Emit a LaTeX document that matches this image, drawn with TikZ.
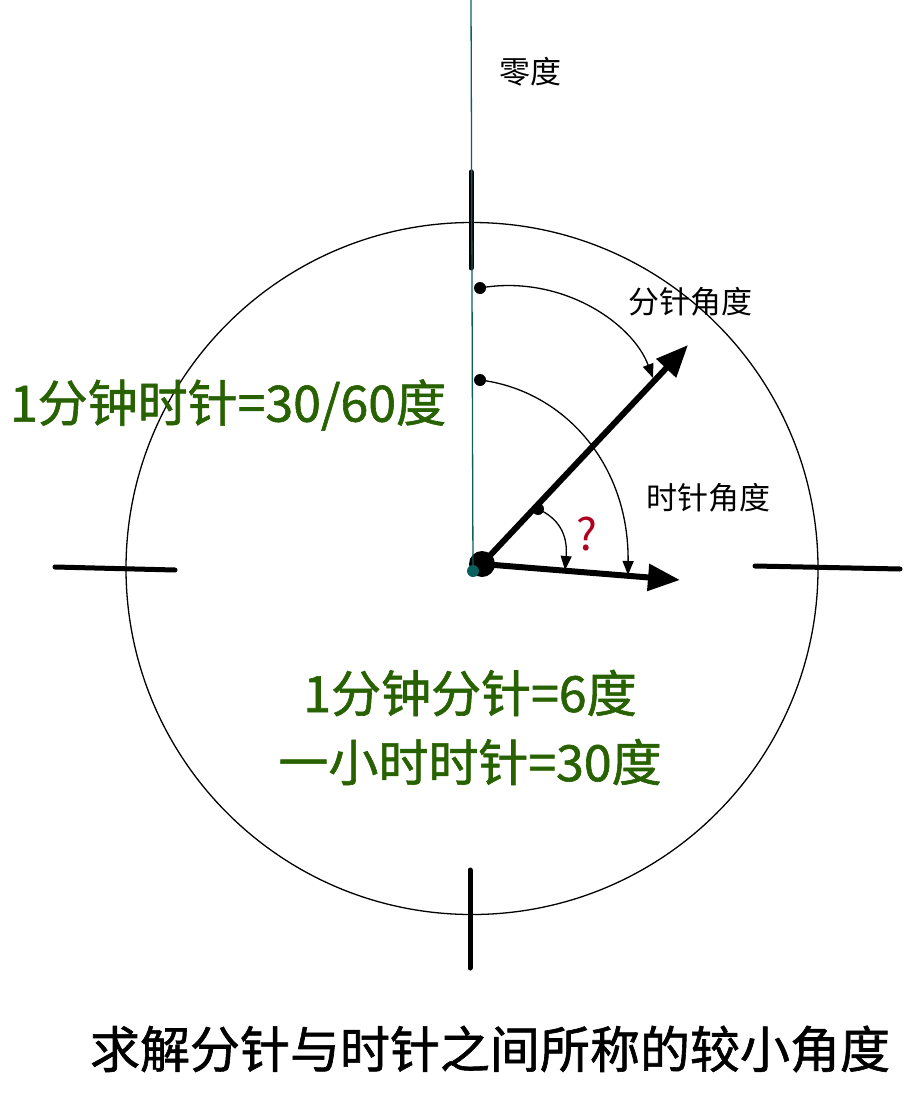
\documentclass[tikz,border=0pt]{standalone}
\usepackage{fontspec}
\newfontfamily\cjk{Noto Sans CJK SC}
\newfontfamily\cjkheavy[FakeBold=1.2]{Noto Sans CJK SC}
\usetikzlibrary{positioning, arrows, arrows.meta}
\definecolor{clockgreen}{RGB}{40,98,0}
\definecolor{zeroteal}{RGB}{10,95,95}
\definecolor{askred}{RGB}{176,0,32}

\tikzset{
    dot/.style={circle, fill=black, inner sep=0pt, minimum size=12pt},
    hand/.style={line width=6pt, -{Triangle[length=32pt,width=26pt]}},
    sweep/.style={line width=1.3pt, -{Triangle[length=14pt,width=11pt]}},
    tickmark/.style={line width=5pt, line cap=round},
    smalltag/.style={inner sep=0pt, font=\cjk\fontsize{31pt}{34pt}\selectfont},
    bigtag/.style={inner sep=0pt, text=clockgreen, font=\cjkheavy\fontsize{50pt}{56pt}\selectfont}
}

\begin{document}
\begin{tikzpicture}[x=1pt, y=-1pt, >=latex', thick]
    \useasboundingbox (0,0) rectangle (904,1094);

    % clock face %
    \node [draw,
        circle,
        line width=1.3pt,
        inner sep=0pt,
        minimum size=692pt
    ] (face) at (472,568.5) {};

    % ticks %
    \coordinate (t12a) at (471,172);
    \coordinate (t12b) at (471,268);
    \coordinate (t6a) at (470,870);
    \coordinate (t6b) at (470,968);
    \coordinate (t9a) at (55,567);
    \coordinate (t9b) at (175,570);
    \coordinate (t3a) at (755,566);
    \coordinate (t3b) at (900,569);
    \draw[tickmark] (t12a) -- (t12b);
    \draw[tickmark] (t6a) -- (t6b);
    \draw[tickmark] (t9a) -- (t9b);
    \draw[tickmark] (t3a) -- (t3b);

    % hands %
    \node [dot, minimum size=26pt] (hub) at (482,564) {};
    \coordinate (mintip) at (688,345);
    \coordinate (hourtip) at (680,580);
    \draw[hand] (hub.center) -- (mintip);
    \draw[hand] (hub.center) -- (hourtip);

    % zero line %
    \coordinate (ztop) at (471,0);
    \node [circle, fill=zeroteal, inner sep=0pt, minimum size=12pt] (zdot) at (473,571) {};
    \draw[zeroteal, line width=1.3pt] (ztop) -- (zdot.center);

    % angle sweeps %
    \node [dot] (mstart) at (480,288) {};
    \node [dot] (hstart) at (480,380) {};
    \node [dot] (qstart) at (538,509) {};
    \coordinate (mend) at (653,378);
    \coordinate (hend) at (628,575);
    \coordinate (qend) at (565,570);
    \draw[sweep] (mstart.center) .. controls (560,274) and (632,322) .. (mend);
    \draw[sweep] (hstart.center) .. controls (562,390) and (629,462) .. (hend);
    \draw[sweep] (qstart.center) .. controls (558,518) and (568,534) .. (qend);

    % labels %
    \node [smalltag] (zero) at (530,72) {零度};
    \node [smalltag] (minlabel) at (690,302) {分针角度};
    \node [smalltag] (hourlabel) at (708,498) {时针角度};
    \node [inner sep=0pt, text=askred,
        font=\cjk\fontsize{44pt}{48pt}\selectfont
    ] (ask) at (587,534) {?};
    \node [bigtag] (hourrate) at (228,405) {1分钟时针=30/60度};
    \node [bigtag] (minrate) at (470,693) {1分钟分针=6度};
    \node [bigtag] (hourstep) at (470,762) {一小时时针=30度};
    \node [inner sep=0pt,
        font=\cjkheavy\fontsize{50pt}{56pt}\selectfont
    ] (task) at (490,1049) {求解分针与时针之间所称的较小角度};
\end{tikzpicture}
\end{document}
